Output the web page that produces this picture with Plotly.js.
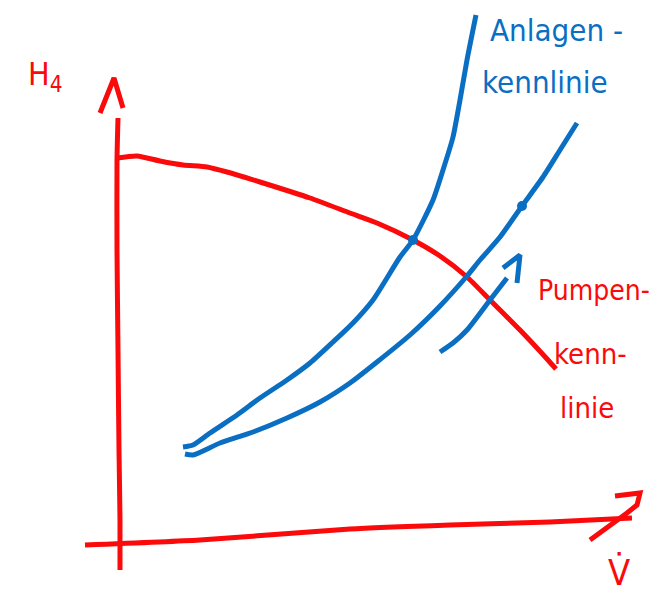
<!DOCTYPE html>
<html>
<head>
<meta charset="utf-8">
<script src="https://cdn.plot.ly/plotly-3.0.1.min.js"></script>
<style>html,body{margin:0;padding:0;background:#fff;}#chart{width:652px;height:598px;}</style>
</head>
<body>
<div id="chart"></div>
<script>
// Sketch coordinates (x to the right, y downward)
const yAxisX = [118, 117, 117, 118, 119, 120, 120];
const yAxisY = [118, 160, 250, 350, 450, 520, 570];
const yArrowX = [100, 114, 123];
const yArrowY = [113, 78, 108];

const xAxisX = [85, 200, 350, 450, 550, 632];
const xAxisY = [545, 540, 529, 525, 522, 518];
const xArrowX = [615, 640, 637, 627, 590];
const xArrowY = [496, 493, 505, 513, 540];

const pumpX = [117, 137, 160, 183, 207, 227, 260, 310, 350, 377, 413, 440, 467, 490, 520, 548, 556];
const pumpY = [158, 156, 161, 165, 167, 172, 182, 198, 213, 223, 240, 256, 277, 300, 330, 360, 369];

const plant1X = [183, 193, 210, 237, 260, 287, 310, 333, 353, 373, 400, 413, 433, 443, 453, 460, 467, 476];
const plant1Y = [447, 445, 433, 415, 398, 380, 363, 342, 323, 300, 257, 240, 200, 170, 137, 100, 60, 15];

const plant2X = [185, 193, 220, 253, 287, 320, 350, 377, 410, 440, 467, 480, 500, 522, 543, 560, 577];
const plant2Y = [454, 455, 443, 432, 418, 402, 383, 362, 335, 306, 276, 260, 237, 206, 177, 150, 123];

const shiftX = [440, 453, 467, 490, 507];
const shiftY = [352, 343, 330, 300, 278];
const shiftHeadX = [503, 520, 517];
const shiftHeadY = [268, 255, 283];

const pointX = [413, 522];
const pointY = [240, 206];

const RED = '#fa0a0a';
const BLUE = '#0a6fc2';

function ln(x, y, color, w, shape) {
  return {x: x, y: y, mode: 'lines', type: 'scatter', hoverinfo: 'skip',
          line: {color: color, width: w, shape: shape || 'spline', smoothing: 0.6}};
}

const traces = [
  ln(yAxisX, yAxisY, RED, 5),
  ln(yArrowX, yArrowY, RED, 5, 'linear'),
  ln(xAxisX, xAxisY, RED, 5),
  ln(xArrowX, xArrowY, RED, 5, 'linear'),
  ln(pumpX, pumpY, RED, 5),
  ln(plant1X, plant1Y, BLUE, 5),
  ln(plant2X, plant2Y, BLUE, 5),
  ln(shiftX, shiftY, BLUE, 5),
  ln(shiftHeadX, shiftHeadY, BLUE, 5, 'linear'),
  {x: pointX, y: pointY, mode: 'markers', type: 'scatter', hoverinfo: 'skip',
   marker: {color: BLUE, size: 10}}
];

const FONT = 'Liberation Sans Narrow, DejaVu Sans Condensed, sans-serif';
function txt(x, y, s, color, size) {
  return {x: x, y: y, xref: 'x', yref: 'y', text: s, showarrow: false,
          xanchor: 'left', yanchor: 'middle',
          font: {family: FONT, size: size, color: color}};
}

const layout = {
  width: 652, height: 598,
  margin: {l: 0, r: 0, t: 0, b: 0},
  paper_bgcolor: '#ffffff', plot_bgcolor: '#ffffff',
  showlegend: false,
  xaxis: {range: [0, 652], visible: false, fixedrange: true},
  yaxis: {range: [598, 0], visible: false, fixedrange: true},
  annotations: [
    txt(26, 76, 'H<sub>4</sub>', RED, 32),
    txt(488, 30, 'Anlagen -', BLUE, 31),
    txt(480, 82, 'kennlinie', BLUE, 31),
    txt(536, 290, 'Pumpen-', RED, 28),
    txt(552, 354, 'kenn-', RED, 29),
    txt(558, 408, 'linie', RED, 29),
    txt(606, 572, 'V\u0307', RED, 36)
  ]
};

Plotly.newPlot('chart', traces, layout, {staticPlot: true, displayModeBar: false});
</script>
</body>
</html>
